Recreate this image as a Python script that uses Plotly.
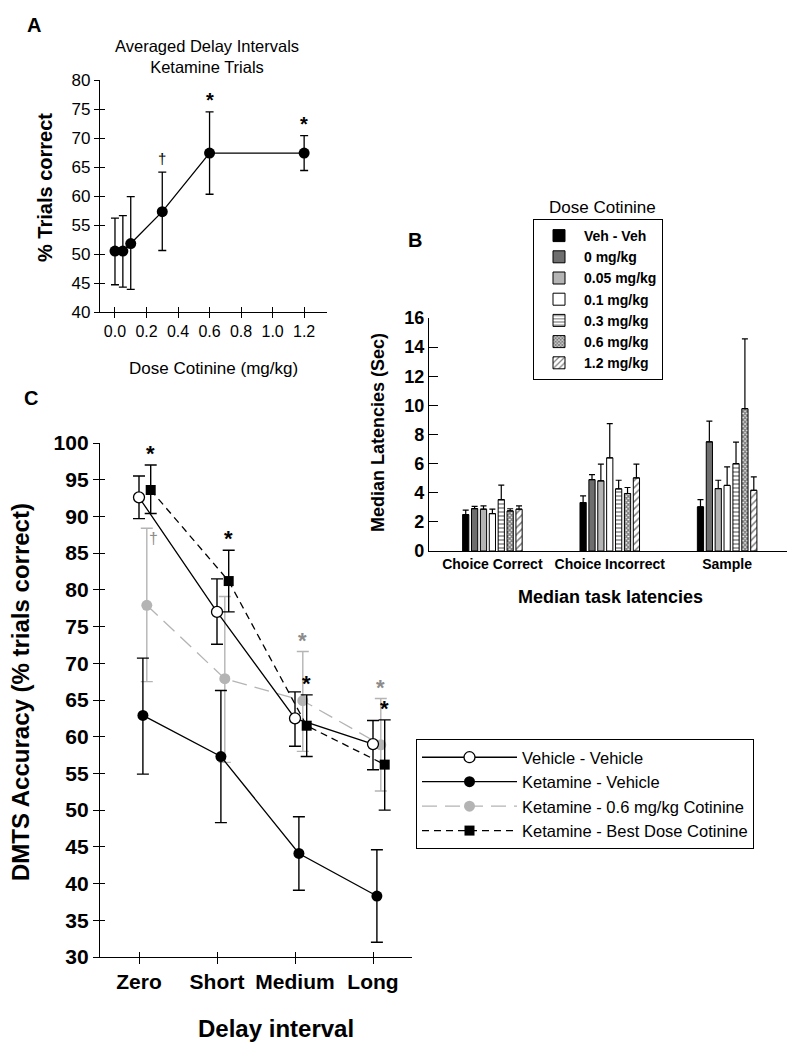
import plotly.graph_objects as go

W, H = 799, 1050
FONT = "Liberation Sans, Arial, sans-serif"

# ---- Panel A: averaged delay intervals, ketamine trials ----
a_dose = [0.0, 0.05, 0.1, 0.3, 0.6, 1.2]
a_mean = [50.5, 50.5, 51.8, 57.3, 67.4, 67.4]
a_upper = [56.2, 56.6, 59.9, 64.1, 74.5, 70.4]
a_lower = [44.7, 44.3, 43.9, 50.6, 60.3, 64.4]
a_sig = ["", "", "", "†", "*", "*"]
a_xticks = [0.0, 0.2, 0.4, 0.6, 0.8, 1.0, 1.2]
a_yticks = [40, 45, 50, 55, 60, 65, 70, 75, 80]

# ---- Panel B: median task latencies ----
b_tasks = ["Choice Correct", "Choice Incorrect", "Sample"]
b_doses = ["Veh - Veh", "0 mg/kg", "0.05 mg/kg", "0.1 mg/kg", "0.3 mg/kg", "0.6 mg/kg", "1.2 mg/kg"]
b_vehveh = [2.5, 3.33, 3.03]
b_vehveh_top = [2.8, 3.78, 3.53]
b_d0 = [2.91, 4.9, 7.5]
b_d0_top = [3.07, 5.25, 8.92]
b_d005 = [2.87, 4.82, 4.29]
b_d005_top = [3.1, 5.96, 4.86]
b_d01 = [2.57, 6.4, 4.5]
b_d01_top = [2.87, 8.74, 5.78]
b_d03 = [3.53, 4.27, 6.0]
b_d03_top = [4.52, 4.86, 7.48]
b_d06 = [2.75, 3.95, 9.77]
b_d06_top = [2.9, 4.36, 14.56]
b_d12 = [2.87, 5.02, 4.17]
b_d12_top = [3.1, 5.96, 5.09]
b_yticks = [0, 2, 4, 6, 8, 10, 12, 14, 16]

# ---- Panel C: DMTS accuracy by delay interval ----
c_delays = ["Zero", "Short", "Medium", "Long"]
c_vv = [92.6, 77.0, 62.5, 59.0]
c_vv_hi = [95.5, 81.5, 66.1, 62.2]
c_vv_lo = [89.7, 72.6, 58.7, 55.5]
c_kv = [62.9, 57.3, 44.1, 38.3]
c_kv_hi = [70.7, 66.3, 49.1, 44.6]
c_kv_lo = [54.9, 48.3, 39.1, 32.0]
c_k06 = [77.9, 67.9, 64.9, 58.9]
c_k06_hi = [88.4, 79.1, 71.6, 65.2]
c_k06_lo = [67.5, 56.5, 58.0, 52.6]
c_kbest = [93.6, 81.2, 61.5, 56.2]
c_kbest_hi = [97.0, 85.4, 65.7, 62.3]
c_kbest_lo = [90.4, 77.0, 57.3, 50.0]
c_k06_sig = ["†", "", "*", "*"]
c_kbest_sig = ["*", "*", "*", "*"]
c_yticks = [30, 35, 40, 45, 50, 55, 60, 65, 70, 75, 80, 85, 90, 95, 100]


def fx(p):
    return p / W


def fy(p):
    return 1 - p / H


def err(mean, hi, lo):
    return dict(type="data", symmetric=False,
                array=[h - m for h, m in zip(hi, mean)],
                arrayminus=[m - l for m, l in zip(mean, lo)])


def label(x, y, text, size, bold=False, angle=0, color="black"):
    # text placed by pixel position on the page, centred on (x, y)
    return dict(x=fx(x), y=fy(y), xref="paper", yref="paper", text=text, showarrow=False,
                xanchor="center", yanchor="middle", textangle=angle,
                font=dict(size=size, weight="bold" if bold else "normal", color=color))


GRAY = "#b4b4b4"
GRAY_TXT = "#8c8c8c"
fig = go.Figure()

# Panel A
fig.add_trace(go.Scatter(
    x=a_dose, y=a_mean, mode="lines+markers", xaxis="x", yaxis="y",
    line=dict(color="black", width=1.3),
    marker=dict(color="black", size=11),
    error_y=dict(**err(a_mean, a_upper, a_lower), color="black", thickness=1.3, width=4),
    showlegend=False))

# Panel B
b_means = [b_vehveh, b_d0, b_d005, b_d01, b_d03, b_d06, b_d12]
b_tops = [b_vehveh_top, b_d0_top, b_d005_top, b_d01_top, b_d03_top, b_d06_top, b_d12_top]
b_fill = ["black", "#6e6e6e", "#b4b4b4", "white", "white", "white", "white"]
b_pattern = [None, None, None, None,
             dict(shape="-", size=4, solidity=0.35),
             dict(shape="x", size=3, solidity=0.75),
             dict(shape="/", size=5, solidity=0.3)]
for name, m, t, fc, pat in zip(b_doses, b_means, b_tops, b_fill, b_pattern):
    marker = dict(color=fc, line=dict(color="black", width=1))
    if pat:
        marker["pattern"] = dict(**pat, fgcolor="black", bgcolor="white")
    fig.add_trace(go.Bar(
        x=b_tasks, y=m, name=name, xaxis="x2", yaxis="y2", marker=marker,
        error_y=dict(type="data", symmetric=False,
                     array=[tt - mm for tt, mm in zip(t, m)], arrayminus=[0] * len(m),
                     color="black", thickness=1.2, width=3),
        legend="legend"))

# Panel C (gray series drawn first so it sits behind)
c_series = [
    ("Ketamine - 0.6 mg/kg Cotinine", c_k06, c_k06_hi, c_k06_lo, 0.10, 3,
     dict(color=GRAY, width=1.3, dash="15px,8px"), dict(color=GRAY, size=11, symbol="circle"), GRAY),
    ("Ketamine - Vehicle", c_kv, c_kv_hi, c_kv_lo, 0.05, 2,
     dict(color="black", width=1.3), dict(color="black", size=11, symbol="circle"), "black"),
    ("Vehicle - Vehicle", c_vv, c_vv_hi, c_vv_lo, 0.0, 1,
     dict(color="black", width=1.3), dict(color="white", size=11, symbol="circle",
                                          line=dict(color="black", width=1.3)), "black"),
    ("Ketamine - Best Dose Cotinine", c_kbest, c_kbest_hi, c_kbest_lo, 0.15, 4,
     dict(color="black", width=1.3, dash="7px,5px"), dict(color="black", size=10, symbol="square"), "black"),
]
for name, m, hi, lo, off, rank, line, mk, ec in c_series:
    fig.add_trace(go.Scatter(
        x=[i + off for i in range(len(c_delays))], y=m, name=name, mode="lines+markers",
        xaxis="x3", yaxis="y3", line=line, marker=mk,
        error_y=dict(**err(m, hi, lo), color=ec, thickness=1.4, width=6),
        legend="legend2", legendrank=rank))

# dummy traces so the tick-overlay axes (giving crossing ticks) are drawn
for xa, ya in [("x4", "y4"), ("x5", "y5")]:
    fig.add_trace(go.Scatter(x=[None], y=[None], xaxis=xa, yaxis=ya,
                             showlegend=False, hoverinfo="skip"))

axis_base = dict(showline=True, linecolor="black", linewidth=1.3, showgrid=False,
                 zeroline=False, tickcolor="black", tickwidth=1.3, automargin=False)
over = dict(showline=False, showgrid=False, zeroline=False, showticklabels=False,
            ticks="inside", ticklen=5, tickcolor="black", tickwidth=1.3, automargin=False)

a_xr = [-0.095, 1.345]
a_yr = [40, 80]
c_xr = [-0.5, 3.5]
c_yr = [30, 100]

annotations = []

# Panel A annotations
for x, y, s in zip(a_dose, a_upper, a_sig):
    if s:
        annotations.append(dict(x=x, y=y, xref="x", yref="y", text=s, showarrow=False,
                                xanchor="center", yanchor="bottom",
                                yshift=-1 if s == "*" else 3,
                                font=dict(size=20 if s == "*" else 15, color="#000000",
                                          weight="bold" if s == "*" else "normal")))
annotations += [
    label(34, 25, "A", 20, bold=True),
    label(207, 57, "Averaged Delay Intervals<br>Ketamine Trials", 16.5),
    label(45, 188, "% Trials correct", 20, bold=True, angle=-90),
    label(213, 368, "Dose Cotinine (mg/kg)", 17),
]

# Panel B annotations
annotations += [
    label(415, 240, "B", 20, bold=True),
    label(602, 207, "Dose Cotinine", 17),
    label(378, 433, "Median Latencies (Sec)", 18, bold=True, angle=-90),
    label(610, 597, "Median task latencies", 18, bold=True),
]

# Panel C annotations
for i, (y, s) in enumerate(zip(c_kbest_hi, c_kbest_sig)):
    if s:
        annotations.append(dict(x=i + 0.15, y=y, xref="x3", yref="y3", text=s, showarrow=False,
                                xanchor="center", yanchor="bottom", yshift=-3,
                                font=dict(size=22, weight="bold", color="black")))
for i, (y, s) in enumerate(zip(c_k06_hi, c_k06_sig)):
    if s == "*":
        annotations.append(dict(x=i + 0.10, y=y, xref="x3", yref="y3", text=s, showarrow=False,
                                xanchor="center", yanchor="bottom", yshift=-3,
                                font=dict(size=22, weight="bold", color=GRAY_TXT)))
    elif s:
        annotations.append(dict(x=i + 0.10, y=y, xref="x3", yref="y3", text=s, showarrow=False,
                                xanchor="left", yanchor="top", xshift=0, yshift=0,
                                font=dict(size=16, color=GRAY_TXT)))
annotations += [
    label(31, 398, "C", 20, bold=True),
    label(21, 692, "DMTS Accuracy (% trials correct)", 24, bold=True, angle=-90),
    label(276, 1028, "Delay interval", 24, bold=True),
]

fig.update_layout(
    width=W, height=H, margin=dict(l=0, r=0, t=0, b=0, autoexpand=False),
    paper_bgcolor="white", plot_bgcolor="white",
    font=dict(family=FONT, color="black"),
    barmode="group", bargap=0.47, bargroupgap=0.3,
    # Panel A axes
    xaxis=dict(**axis_base, domain=[fx(100), fx(327)], anchor="y", range=a_xr,
               tickvals=a_xticks, ticktext=[f"{v:.1f}" for v in a_xticks],
               ticks="outside", ticklen=5, tickfont=dict(size=16)),
    yaxis=dict(**axis_base, domain=[fy(312), fy(80)], anchor="x", range=a_yr,
               tickvals=a_yticks, ticks="outside", ticklen=5, tickfont=dict(size=17)),
    xaxis4=dict(**over, overlaying="x", anchor="y", range=a_xr, tickvals=a_xticks),
    yaxis4=dict(**over, overlaying="y", anchor="x", range=a_yr, tickvals=a_yticks),
    # Panel B axes
    xaxis2=dict(**axis_base, domain=[fx(429), fx(787)], anchor="y2", range=[-0.54, 2.51],
                ticks="", tickfont=dict(size=14, weight="bold")),
    yaxis2=dict(**axis_base, domain=[fy(551), fy(318)], anchor="x2", range=[0, 16],
                tickvals=b_yticks, ticks="inside", ticklen=9,
                tickfont=dict(size=18, weight="bold")),
    # Panel C axes
    xaxis3=dict(**axis_base, domain=[fx(100), fx(412)], anchor="y3", range=c_xr,
                tickvals=[0, 1, 2, 3], ticktext=c_delays, ticks="outside", ticklen=6,
                tickfont=dict(size=21, weight="bold")),
    yaxis3=dict(**axis_base, domain=[fy(957), fy(443)], anchor="x3", range=c_yr,
                tickvals=c_yticks, ticks="outside", ticklen=6,
                tickfont=dict(size=21, weight="bold")),
    xaxis5=dict(**over, overlaying="x3", anchor="y3", range=c_xr, tickvals=[0, 1, 2, 3]),
    yaxis5=dict(**over, overlaying="y3", anchor="x3", range=c_yr, tickvals=c_yticks),
    legend=dict(x=fx(533), y=fy(219), xanchor="left", yanchor="top",
                bordercolor="black", borderwidth=1, bgcolor="white",
                font=dict(size=14, weight="bold", color="black"), itemwidth=40,
                traceorder="normal"),
    legend2=dict(x=fx(416), y=fy(739), xanchor="left", yanchor="top",
                 bordercolor="black", borderwidth=1, bgcolor="white",
                 font=dict(size=16.5, color="black"), itemwidth=95),
    annotations=annotations,
)

fig.write_html("out.html", config={"displayModeBar": False},
               post_script="document.body.style.margin='0';")
